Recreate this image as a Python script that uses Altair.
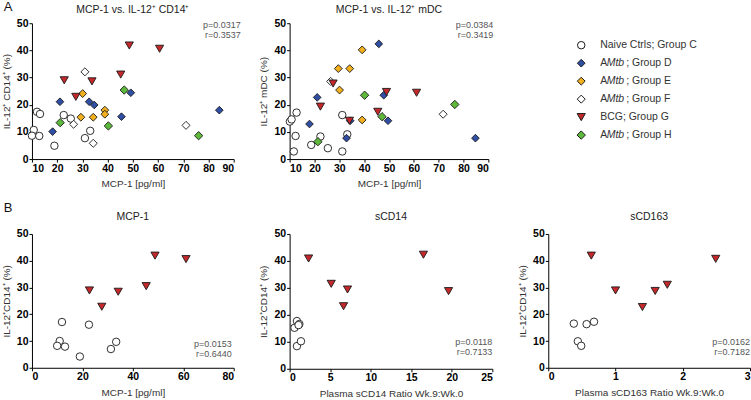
import altair as alt
import pandas as pd

FONT = "Liberation Sans"

# ---- group styling -------------------------------------------------------
GROUP_KEYS = ["C", "D", "E", "F", "G", "H"]
GROUP_SHAPES = ["circle", "diamond", "diamond", "diamond", "triangle-down", "diamond"]
GROUP_FILLS = ["#ffffff", "#2f4ea4", "#f2b01e", "#ffffff", "#c4282b", "#5db83b"]
GROUP_SIZES = [56, 70, 70, 70, 90, 70]

# ---- panel A1: MCP-1 vs IL-12+ CD14+ ------------------------------------
a1_c_x = [12.0, 13.2, 10.7, 10.0, 12.9, 18.9, 22.6, 25.4, 31.0, 33.1]
a1_c_y = [17.4, 16.6, 10.7, 8.6, 8.5, 4.9, 16.2, 14.9, 7.7, 10.4]
a1_d_x = [18.2, 21.1, 32.7, 34.7, 45.5, 49.2, 84.3]
a1_d_y = [10.1, 21.1, 21.1, 19.9, 15.6, 24.4, 18.0]
a1_e_x = [30.1, 29.4, 34.3, 38.9, 38.9]
a1_e_y = [24.1, 15.4, 15.4, 18.0, 16.5]
a1_f_x = [26.5, 31.0, 34.3, 71.1]
a1_f_y = [12.8, 32.1, 5.8, 12.4]
a1_g_x = [22.8, 27.4, 33.8, 45.2, 48.6, 60.6]
a1_g_y = [29.0, 22.9, 28.6, 31.1, 41.8, 40.6]
a1_h_x = [21.2, 40.3, 46.6, 76.1]
a1_h_y = [13.4, 12.2, 25.4, 8.6]

# ---- panel A2: MCP-1 vs IL-12+ mDC --------------------------------------
a2_c_x = [10.1, 10.8, 12.8, 12.4, 11.7, 18.7, 22.4, 25.4, 31.2, 31.2, 33.2]
a2_c_y = [13.8, 14.6, 17.1, 8.5, 2.8, 5.2, 8.3, 4.0, 16.2, 2.8, 9.1]
a2_d_x = [18.0, 21.1, 32.9, 34.4, 45.9, 47.9, 49.6, 84.8]
a2_d_y = [12.9, 22.7, 7.7, 14.1, 42.4, 23.5, 14.1, 7.7]
a2_e_x = [29.6, 34.2, 39.2, 30.1, 39.2]
a2_e_y = [33.3, 33.3, 40.2, 25.4, 14.4]
a2_f_x = [26.5, 71.8]
a2_f_y = [28.6, 16.5]
a2_g_x = [22.4, 27.5, 34.1, 45.5, 49.0, 61.1]
a2_g_y = [19.3, 27.8, 14.1, 17.4, 24.7, 24.4]
a2_h_x = [21.4, 40.2, 47.2, 76.5]
a2_h_y = [6.4, 23.5, 15.6, 20.1]

# ---- panels B: IL-12+ CD14+ vs MCP-1, sCD14 ratio, sCD163 ratio ---------
b1_c_x = [11.9, 11.0, 10.0, 13.1, 19.0, 22.6, 31.3, 33.4]
b1_c_y = [17.1, 10.0, 8.2, 7.9, 4.2, 16.1, 7.0, 9.7]
b1_g_x = [22.8, 27.7, 34.2, 45.3, 48.8, 61.1]
b1_g_y = [28.9, 22.8, 28.4, 30.5, 41.9, 40.6]

b2_c_x = [0.6, 0.9, 1.2, 1.1, 0.9, 1.4]
b2_c_y = [15.2, 17.7, 16.6, 16.2, 8.4, 10.2]
b2_g_x = [2.34, 5.13, 6.65, 7.14, 16.5, 19.6]
b2_g_y = [40.9, 31.5, 23.2, 29.4, 42.3, 28.8]

b3_c_x = [0.38, 0.57, 0.68, 0.44, 0.49]
b3_c_y = [16.5, 16.3, 17.2, 9.9, 8.2]
b3_g_x = [0.64, 1.0, 1.40, 1.59, 1.77, 2.49]
b3_g_y = [41.9, 28.9, 22.7, 28.7, 31.0, 40.7]

# ---- correlation annotations ---------------------------------------------
stats_a1 = "p=0.0317\nr=0.3537"
stats_a2 = "p=0.0384\nr=0.3419"
stats_b1 = "p=0.0153\nr=0.6440"
stats_b2 = "p=0.0118\nr=0.7133"
stats_b3 = "p=0.0162\nr=0.7182"

# ---- legend text ---------------------------------------------------------
legend_pre = ["Naive Ctrls; Group C", "A", "A", "A", "BCG; Group G", "A"]
legend_it = ["", "Mtb", "Mtb", "Mtb", "", "Mtb"]
legend_post = ["", "; Group D", "; Group E", "; Group F", "", "; Group H"]


def frame(series):
    rows = []
    order = {"C": 0, "F": 1, "E": 2, "H": 3, "D": 4, "G": 5}
    for key, xs, ys in series:
        for xv, yv in zip(xs, ys):
            rows.append({"g": key, "x": xv, "y": yv, "o": order[key]})
    return pd.DataFrame(rows)


def axis(title, values, fmt=None):
    kw = dict(
        title=title, values=values, grid=False, tickSize=3, tickColor="black",
        domainColor="black", labelFont=FONT, labelFontSize=10.5,
        labelFontWeight="bold", labelColor="black", titleFont=FONT,
        titleFontSize=10, titleFontWeight="normal", titleColor="#333",
        labelPadding=1, titlePadding=5,
    )
    if fmt:
        kw["format"] = fmt
    return alt.Axis(**kw)


def note(text, x, y, **style):
    return alt.Chart(pd.DataFrame({"t": [text]})).mark_text(
        font=FONT, **style
    ).encode(text="t:N", x=alt.value(x), y=alt.value(y))


def panel(df, xdom, xticks, xtitle, ytitle, title, stats, w, h, stats_x,
          stats_y, title_y, letter=None):
    pts = alt.Chart(df).mark_point(
        filled=True, opacity=1, stroke="#1a1a1a", strokeWidth=0.9, clip=False
    ).encode(
        x=alt.X("x:Q", scale=alt.Scale(domain=xdom, nice=False, zero=False),
                axis=axis(xtitle, xticks, "d")),
        y=alt.Y("y:Q", scale=alt.Scale(domain=[0, 50], nice=False),
                axis=axis(ytitle, [0, 10, 20, 30, 40, 50])),
        shape=alt.Shape("g:N", scale=alt.Scale(domain=GROUP_KEYS, range=GROUP_SHAPES), legend=None),
        fill=alt.Fill("g:N", scale=alt.Scale(domain=GROUP_KEYS, range=GROUP_FILLS), legend=None),
        size=alt.Size("g:N", scale=alt.Scale(domain=GROUP_KEYS, range=GROUP_SIZES), legend=None),
        order=alt.Order("o:Q"),
    )
    layers = [
        pts,
        note(stats, w + stats_x, stats_y, align="right", baseline="middle",
             fontSize=9, color="#555", lineBreak="\n", lineHeight=10),
        note(title, w / 2, title_y, align="center", baseline="middle",
             fontSize=10.5, color="#222"),
    ]
    if letter:
        layers.append(note(letter[0], letter[1], letter[2], align="center",
                           baseline="middle", fontSize=13, color="#111"))
    return alt.layer(*layers).properties(width=w, height=h)


a1 = panel(
    frame([("C", a1_c_x, a1_c_y), ("D", a1_d_x, a1_d_y), ("E", a1_e_x, a1_e_y),
           ("F", a1_f_x, a1_f_y), ("G", a1_g_x, a1_g_y), ("H", a1_h_x, a1_h_y)]),
    [10, 90], list(range(10, 91, 10)), "MCP-1 [pg/ml]", "IL-12\u207a CD14\u207a (%)",
    "MCP-1 vs. IL-12\u207a CD14\u207a", stats_a1, 202, 136, 7, 2, -13,
    letter=("A", -24, -16),
)
a2 = panel(
    frame([("C", a2_c_x, a2_c_y), ("D", a2_d_x, a2_d_y), ("E", a2_e_x, a2_e_y),
           ("F", a2_f_x, a2_f_y), ("G", a2_g_x, a2_g_y), ("H", a2_h_x, a2_h_y)]),
    [10, 90], list(range(10, 91, 10)), "MCP-1 [pg/ml]", "IL-12\u207a mDC (%)",
    "MCP-1 vs. IL-12\u207a mDC", stats_a2, 199, 136, 5, 2, -13,
)

b1 = panel(
    frame([("C", b1_c_x, b1_c_y), ("G", b1_g_x, b1_g_y)]),
    [0, 80], [0, 20, 40, 60, 80], "MCP-1 [pg/ml]", "IL-12\u207aCD14\u207a (%)",
    "MCP-1", stats_b1, 202, 134, -2, 110, -17,
    letter=("B", -24, -26),
)
b2 = panel(
    frame([("C", b2_c_x, b2_c_y), ("G", b2_g_x, b2_g_y)]),
    [0, 25], [0, 5, 10, 15, 20, 25], "Plasma sCD14 Ratio Wk.9:Wk.0",
    "IL-12\u207aCD14\u207a (%)", "sCD14", stats_b2, 203, 135, 0, 108, -17,
)
b3 = panel(
    frame([("C", b3_c_x, b3_c_y), ("G", b3_g_x, b3_g_y)]),
    [0, 3], [0, 1, 2, 3], "Plasma sCD163 Ratio Wk.9:Wk.0",
    "IL-12\u207aCD14\u207a (%)", "sCD163", stats_b3, 202, 134, 0, 108, -17,
)

# ---- hand-built legend with italic "Mtb" ---------------------------------
leg_df = pd.DataFrame({
    "g": GROUP_KEYS, "i": list(range(6)),
    "pre": legend_pre, "it": legend_it, "post": legend_post,
})
leg_y = alt.Y("i:Q", scale=alt.Scale(domain=[-1.222, 6.333], reverse=True), axis=None)
leg_sym = alt.Chart(leg_df).mark_point(
    filled=True, opacity=1, stroke="#1a1a1a", strokeWidth=1.0
).encode(
    x=alt.value(33), y=leg_y,
    shape=alt.Shape("g:N", scale=alt.Scale(domain=GROUP_KEYS, range=GROUP_SHAPES), legend=None),
    fill=alt.Fill("g:N", scale=alt.Scale(domain=GROUP_KEYS, range=GROUP_FILLS), legend=None),
    size=alt.Size("g:N", scale=alt.Scale(domain=GROUP_KEYS, range=[75, 85, 85, 85, 115, 85]), legend=None),
)
leg_txt = dict(align="left", baseline="middle", font=FONT, fontSize=10.5, color="#333")
leg_pre = alt.Chart(leg_df).mark_text(**leg_txt).encode(
    x=alt.value(52), y=leg_y, text="pre:N")
leg_it = alt.Chart(leg_df).mark_text(fontStyle="italic", **leg_txt).encode(
    x=alt.value(58.5), y=leg_y, text="it:N")
leg_post = alt.Chart(leg_df).mark_text(**leg_txt).encode(
    x=alt.value(78), y=leg_y, text="post:N")
legend = alt.layer(leg_sym, leg_pre, leg_it, leg_post).properties(
    width=160, height=136, view=alt.ViewConfig(stroke=None)
)

# grid of plot areas: flush bounds so spacing is the gap between plot frames
chart = alt.concat(
    a1, a2, legend, b1, b2, b3,
    columns=3, bounds="flush", spacing={"row": 75, "column": 56},
).properties(
    padding={"left": 1, "top": 1, "right": 0, "bottom": 0},
    background="white",
).configure_view(stroke=None)

chart.save("out.html", embed_options={"renderer": "svg", "actions": False})
